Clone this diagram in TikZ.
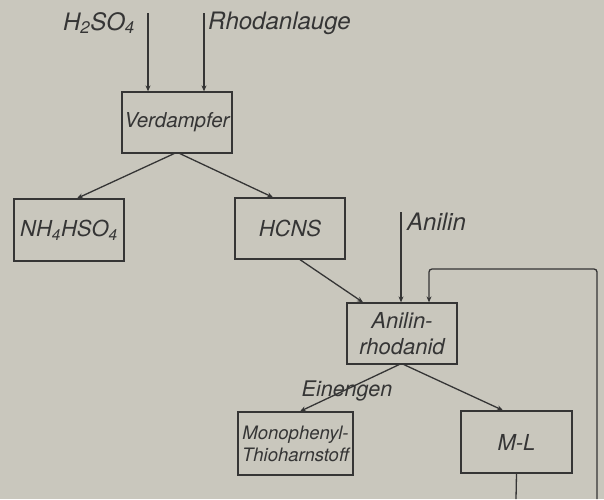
\documentclass[tikz,border=0pt]{standalone}
\usepackage{fontspec}
\setsansfont{TeX Gyre Heros}
\usetikzlibrary{arrows.meta, calc, positioning}
\definecolor{paper}{HTML}{C9C7BD}
\definecolor{ink}{HTML}{353535}
\tikzset{
  % Apparat / Stoff
  unit/.style={draw=ink, line width=1.3pt, minimum width=110pt, minimum height=61pt,
    inner sep=1pt, align=center, text=ink, font=\fontsize{22}{26}\selectfont\sffamily\itshape},
  smallunit/.style={unit, font=\fontsize{18.5}{22}\selectfont\sffamily\itshape},
  % Stoffstrom
  flow/.style={ink, line width=1.3pt, -{Stealth[length=6pt, width=5pt]}},
  line/.style={ink, line width=1.3pt},
  % Beschriftung
  lbl/.style={inner sep=0pt, text=ink, font=\fontsize{24}{26}\selectfont\sffamily\itshape},
}
\begin{document}
\begin{tikzpicture}[x=1pt, y=-1pt]
  \fill[paper] (0,0) rectangle (604,499);
  \useasboundingbox (0,0) rectangle (604,499);
  % Apparate
  \node[unit, inner sep=0pt, font=\fontsize{20.5}{26}\selectfont\sffamily\itshape] (vd) at (177,122.5) {Verdampfer};
  \node[unit, minimum height=62pt] (nh) at (69,230) {NH\textsubscript{4}HSO\textsubscript{4}};
  \node[unit] (hcns) at (290,228.5) {HCNS};
  \node[unit] (ar) at (402,333.5) {Anilin-\\rhodanid};
  \node[smallunit, inner sep=0pt, minimum width=115pt, minimum height=63pt] (mono) at (295.5,443.5) {Monophenyl-\\Thioharnstoff};
  \node[unit, minimum width=111pt, minimum height=62pt] (ml) at (516.5,442) {M-L};
  % Zulaeufe
  \coordinate (h2so4) at (148,13);
  \coordinate (rhod) at (204,13);
  \coordinate (anilin) at (401,212);
  \node[lbl, anchor=east] (h2so4lbl) at (135,23) {H\textsubscript{2}SO\textsubscript{4}};
  \node[lbl, anchor=west] (rhodlbl) at (208,23) {Rhodanlauge};
  \node[lbl, anchor=west] (anilinlbl) at (407,222) {Anilin};
  \node[lbl, font=\fontsize{21.5}{24}\selectfont\sffamily\itshape] (einlbl) at (347,391) {Einengen};
  \draw[flow] (h2so4) -- (h2so4 |- vd.north);
  \draw[flow] (rhod) -- (rhod |- vd.north);
  \draw[flow] (anilin) -- (anilin |- ar.north);
  % Verbindungen
  \draw[flow] ([xshift=-3pt]vd.south) -- ([xshift=8pt]nh.north);
  \draw[flow] ([xshift=3pt]vd.south) -- ([xshift=-17pt]hcns.north);
  \draw[flow] ([xshift=10pt]hcns.south) -- ([xshift=-39pt]ar.north);
  \draw[flow] ([xshift=-3pt]ar.south) -- ([xshift=4.5pt]mono.north);
  \draw[flow] ([xshift=2pt]ar.south) -- ([xshift=-13.5pt]ml.north);
  % Rueckfuehrung
  \coordinate (ret) at (597,499);
  \coordinate (mlout) at (516,499);
  \draw[line] (ml.south) -- (mlout);
  \draw[flow, rounded corners=3pt] (ret) -- (597,269) -| ([xshift=27pt]ar.north);
\end{tikzpicture}
\end{document}
